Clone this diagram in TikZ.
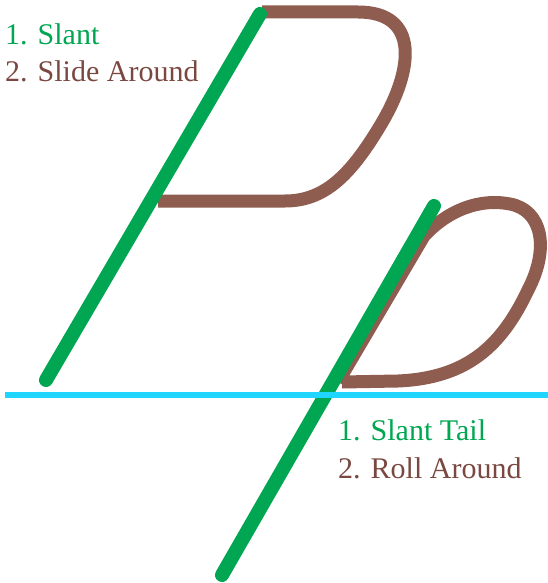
\documentclass[tikz,border=0pt]{standalone}
\usepackage{fontspec}
\setmainfont{Liberation Serif}
\definecolor{slantgreen}{RGB}{0,166,81}
\definecolor{rollbrown}{RGB}{143,92,80}
\definecolor{textbrown}{RGB}{122,72,64}
\definecolor{baseblue}{RGB}{32,214,255}
\begin{document}
\begin{tikzpicture}[x=1pt, y=-1pt,
  slant/.style={slantgreen, line width=14pt, line cap=round},
  roll/.style={rollbrown, line width=13pt, line join=round},
  lbl/.style={font=\fontsize{30}{34}\selectfont, anchor=base west, inner sep=0pt}]
\useasboundingbox (0,0) rectangle (548,583);
% upper P
\draw[roll] (262,12) -- (358,12) .. controls (420,12) and (414,70) .. (380,126)
  .. controls (350,176) and (324,201) .. (285,201) -- (158,201);
\draw[slant] (46,380) -- (260,14);
% lower p
\draw[roll] (342,382) -- (398,381) .. controls (468,378) and (502,345) .. (528,290)
  .. controls (550,248) and (542,210) .. (510,204) .. controls (480,198) and (448,210) .. (424,236)
  -- (338,382);
\draw[slant] (222,575) -- (434,206);
% base line
\draw[baseblue, line width=6pt] (5,395) -- (548,395);
% labels
\node[lbl, text=slantgreen] (slantA) at (5,45) {1. Slant};
\node[lbl, text=textbrown] (slideA) at (5,82) {2. Slide Around};
\node[lbl, text=slantgreen] (slantB) at (338,440) {1. Slant Tail};
\node[lbl, text=textbrown] (rollB) at (338,478) {2. Roll Around};
\end{tikzpicture}
\end{document}
